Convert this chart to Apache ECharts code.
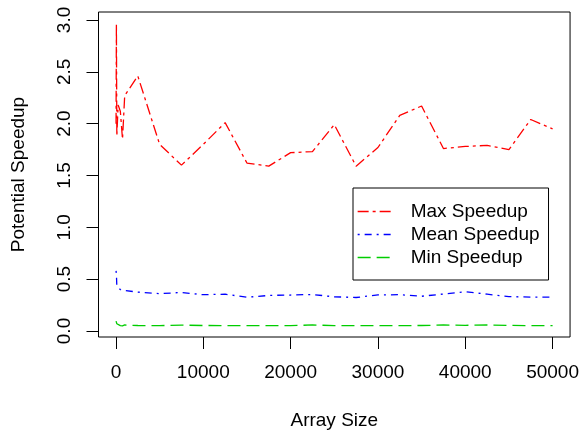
<!DOCTYPE html>
<html>
<head>
<meta charset="utf-8">
<script src="https://cdn.jsdelivr.net/npm/echarts@6/dist/echarts.min.js"></script>
<style>
  html, body { margin: 0; padding: 0; background: #fff; }
  #main { width: 582px; height: 435px; }
</style>
</head>
<body>
<div id="main"></div>
<script>
// array sizes on the x axis
var sizes = [10, 50, 100, 250, 500, 750, 1000, 2500, 5000, 7500, 10000, 12500, 15000, 17500,
  20000, 22500, 25000, 27500, 30000, 32500, 35000, 37500, 40000, 42500, 45000, 47500, 50000];

var maxSpeedup = [2.0, 2.96, 1.88, 2.18, 2.12, 1.85, 2.27, 2.46, 1.80, 1.60, 1.80, 2.01, 1.62, 1.59,
  1.72, 1.73, 1.99, 1.59, 1.77, 2.08, 2.17, 1.76, 1.78, 1.79, 1.75, 2.04, 1.95];

var meanSpeedup = [0.58, 0.55, 0.43, 0.42, 0.40, 0.39, 0.39, 0.375, 0.36, 0.372, 0.35, 0.355, 0.325, 0.343,
  0.347, 0.352, 0.33, 0.323, 0.348, 0.35, 0.335, 0.357, 0.378, 0.355, 0.332, 0.327, 0.327];

var minSpeedup = [0.095, 0.085, 0.07, 0.06, 0.052, 0.05, 0.058, 0.053, 0.052, 0.057, 0.053, 0.052, 0.051, 0.051,
  0.052, 0.058, 0.052, 0.051, 0.052, 0.052, 0.053, 0.058, 0.055, 0.058, 0.054, 0.052, 0.052];

var xTicks = [0, 10000, 20000, 30000, 40000, 50000];
var yTicks = [0, 0.5, 1, 1.5, 2, 2.5, 3];

var font = 'Liberation Sans, Arial, sans-serif';

function pairs(ys) {
  return sizes.map(function (x, i) { return [x, ys[i]]; });
}

function line(name, ys, color, dash) {
  return {
    name: name,
    type: 'line',
    data: pairs(ys),
    symbol: 'none',
    animation: false,
    lineStyle: { color: color, width: 1.3, type: dash },
    itemStyle: { color: color }
  };
}

var myChart = echarts.init(document.getElementById('main'));

var option = {
  animation: false,
  textStyle: { fontFamily: font },
  grid: {
    left: 98.5, right: 10, top: 12, bottom: 97,
    show: true, borderColor: '#000', borderWidth: 1, backgroundColor: 'transparent'
  },
  legend: {
    orient: 'vertical',
    left: 353, top: 188,
    padding: [14, 9, 13, 4],
    itemWidth: 36, itemHeight: 17, itemGap: 4, itemTextGap: 18,
    borderColor: '#000', borderWidth: 1,
    itemStyle: { opacity: 0 },
    lineStyle: { width: 1.3 },
    textStyle: { fontSize: 19, color: '#000', fontFamily: font, lineHeight: 19, padding: [0, 0, 0, 12] },
    data: ['Max Speedup', 'Mean Speedup', 'Min Speedup']
  },
  xAxis: {
    type: 'value',
    min: -2000, max: 52000,
    name: 'Array Size',
    nameLocation: 'middle',
    nameGap: 74,
    nameTextStyle: { fontSize: 19, color: '#000', fontFamily: font },
    axisLine: { show: false, onZero: false },
    splitLine: { show: false },
    axisTick: { show: true, inside: false, length: 12, customValues: xTicks, lineStyle: { color: '#000', width: 1 } },
    axisLabel: {
      customValues: xTicks, margin: 26, fontSize: 19, color: '#000', fontFamily: font,
      formatter: function (v) { return String(v); }
    }
  },
  yAxis: {
    type: 'value',
    min: -0.058, max: 3.077,
    name: 'Potential Speedup',
    nameLocation: 'middle',
    nameGap: 70,
    nameTextStyle: { fontSize: 19, color: '#000', fontFamily: font },
    axisLine: { show: false, onZero: false },
    splitLine: { show: false },
    axisTick: { show: true, inside: false, length: 12, customValues: yTicks, lineStyle: { color: '#000', width: 1 } },
    axisLabel: {
      customValues: yTicks, rotate: 90, margin: 24, fontSize: 19, color: '#000', fontFamily: font,
      formatter: function (v) { return v.toFixed(1); }
    }
  },
  series: [
    line('Max Speedup', maxSpeedup, '#ff0000', [11, 4, 3, 4]),
    line('Mean Speedup', meanSpeedup, '#0000ff', [2, 5, 7, 5]),
    line('Min Speedup', minSpeedup, '#00cd00', [13, 6])
  ]
};

myChart.setOption(option);
</script>
</body>
</html>
